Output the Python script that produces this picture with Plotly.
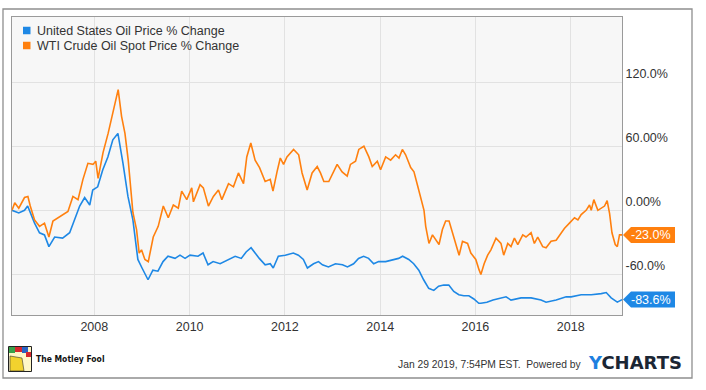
import plotly.graph_objects as go

# ---------------- data ----------------
wti_dates = [
    "2006-04-10", "2006-05-01", "2006-06-01", "2006-07-15", "2006-08-10", "2006-08-28",
    "2006-09-30", "2006-11-07", "2006-12-15", "2007-01-18", "2007-02-18", "2007-04-10",
    "2007-06-13", "2007-07-21", "2007-08-29", "2007-10-06", "2007-11-13", "2007-12-22",
    "2008-01-12", "2008-01-30", "2008-03-08", "2008-04-16", "2008-05-25", "2008-07-02",
    "2008-07-28", "2008-08-23", "2008-09-17", "2008-10-13", "2008-10-23", "2008-11-20",
    "2008-12-10", "2008-12-28", "2009-01-23", "2009-02-18", "2009-03-28", "2009-05-05",
    "2009-06-13", "2009-07-21", "2009-08-29", "2009-10-06", "2009-11-01", "2009-12-10",
    "2010-01-17", "2010-01-30", "2010-03-22", "2010-04-16", "2010-05-25", "2010-07-02",
    "2010-08-10", "2010-09-05", "2010-10-26", "2010-12-03", "2011-01-10", "2011-02-18",
    "2011-03-15", "2011-04-15", "2011-05-18", "2011-06-21", "2011-08-03", "2011-09-11",
    "2011-10-02", "2011-11-02", "2011-11-27", "2011-12-22", "2012-01-17", "2012-03-08",
    "2012-04-16", "2012-05-12", "2012-06-20", "2012-07-28", "2012-09-05", "2012-09-30",
    "2012-10-26", "2012-12-03", "2013-01-10", "2013-02-05", "2013-03-15", "2013-04-23",
    "2013-05-18", "2013-06-26", "2013-07-21", "2013-08-29", "2013-10-06", "2013-11-01",
    "2013-12-10", "2014-01-04", "2014-02-12", "2014-03-22", "2014-04-29", "2014-05-25",
    "2014-06-20", "2014-07-15", "2014-08-23", "2014-09-17", "2014-10-13", "2014-11-07",
    "2014-12-03", "2014-12-16", "2015-01-10", "2015-02-06", "2015-03-03", "2015-03-28",
    "2015-04-23", "2015-05-18", "2015-06-13", "2015-07-09", "2015-08-03", "2015-08-29",
    "2015-09-24", "2015-11-02", "2015-11-27", "2016-01-04", "2016-01-30", "2016-02-12",
    "2016-03-08", "2016-04-04", "2016-04-29", "2016-06-07", "2016-07-15", "2016-08-05",
    "2016-09-05", "2016-09-30", "2016-10-26", "2016-11-21", "2016-12-29", "2017-01-23",
    "2017-03-03", "2017-03-28", "2017-04-23", "2017-05-31", "2017-06-26", "2017-08-03",
    "2017-09-11", "2017-10-19", "2017-11-13", "2017-12-22", "2018-01-30", "2018-02-25",
    "2018-03-22", "2018-04-29", "2018-05-25", "2018-06-07", "2018-06-27", "2018-07-28",
    "2018-08-23", "2018-09-17", "2018-10-07", "2018-10-26", "2018-11-13", "2018-12-08",
    "2018-12-24", "2019-01-10", "2019-01-29",
]
wti_pct = [
    0, 7, 2, 12, 13, 4,
    -9, -15, -12, -25, -10, -6,
    -1, 13, 10, 29, 44, 43,
    46, 30, 54, 72, 94, 113,
    88, 72, 47, 12, -2, -18,
    -40, -37, -46, -48, -25, -15,
    4, -7, 5, 2, 18, 10,
    21, 8, 24, 21, 4, 13,
    19, 10, 25, 22, 35, 25,
    50, 63, 47, 40, 27, 29,
    18, 36, 49, 43, 50, 57,
    52, 35, 19, 35, 41, 35,
    27, 27, 36, 43, 36, 32,
    43, 46, 57, 60, 50, 41,
    46, 38, 50, 47, 52, 49,
    57, 52, 40, 36, 24, 13,
    0, -15, -31, -23, -28, -32,
    -18, -10, -10, -21, -31, -42,
    -29, -31, -40, -46, -56, -60,
    -50, -42, -37, -26, -31, -42,
    -31, -34, -26, -32, -23, -25,
    -21, -31, -25, -34, -35, -29,
    -28, -21, -17, -12, -7, -9,
    -4, 0, 5, 0, 10, 0,
    2, 4, 9, -3, -21, -32,
    -34, -23, -23.0,
]

uso_dates = [
    "2006-04-10", "2006-05-01", "2006-06-01", "2006-07-15", "2006-08-08", "2006-09-30",
    "2006-11-07", "2006-12-15", "2007-01-18", "2007-03-03", "2007-05-03", "2007-06-26",
    "2007-08-03", "2007-09-11", "2007-10-19", "2007-11-27", "2007-12-20", "2008-01-27",
    "2008-03-06", "2008-04-14", "2008-05-22", "2008-06-30", "2008-08-08", "2008-09-15",
    "2008-10-23", "2008-11-30", "2009-01-01", "2009-02-16", "2009-03-25", "2009-05-03",
    "2009-06-11", "2009-07-19", "2009-09-11", "2009-10-19", "2009-11-27", "2010-01-04",
    "2010-03-06", "2010-04-14", "2010-05-22", "2010-06-30", "2010-08-23", "2010-10-24",
    "2010-12-16", "2011-02-01", "2011-03-10", "2011-04-17", "2011-05-18", "2011-06-19",
    "2011-08-03", "2011-09-11", "2011-10-04", "2011-11-12", "2012-01-04", "2012-03-06",
    "2012-04-14", "2012-05-22", "2012-06-22", "2012-08-08", "2012-09-15", "2012-10-15",
    "2012-11-30", "2013-01-23", "2013-03-18", "2013-04-25", "2013-06-11", "2013-07-19",
    "2013-08-27", "2013-10-04", "2013-11-12", "2013-12-20", "2014-02-12", "2014-04-06",
    "2014-05-22", "2014-06-22", "2014-08-08", "2014-09-15", "2014-10-24", "2014-11-30",
    "2015-01-08", "2015-02-16", "2015-03-25", "2015-05-03", "2015-06-11", "2015-07-19",
    "2015-08-27", "2015-10-04", "2015-11-12", "2015-12-20", "2016-01-27", "2016-02-12",
    "2016-03-29", "2016-05-15", "2016-07-15", "2016-08-23", "2016-09-30", "2016-12-16",
    "2017-03-03", "2017-05-18", "2017-06-26", "2017-09-11", "2017-11-27", "2018-01-04",
    "2018-03-22", "2018-06-07", "2018-08-23", "2018-09-30", "2018-11-07", "2018-12-24",
    "2019-01-29",
]
uso_pct = [
    0, -1, -2.5, 0, 4, -12,
    -21, -23, -34, -25, -26, -21,
    -9, 4, 12, 5, 19, 22,
    38, 50, 66, 72, 44, 13,
    -9, -46, -54, -65, -56, -57,
    -48, -43, -45, -42, -45, -42,
    -43, -40, -51, -48, -50, -46,
    -43, -45, -39, -35, -40, -45,
    -51, -50, -54, -43, -42, -40,
    -42, -46, -54, -50, -48, -51,
    -53, -50, -51, -53, -50, -45,
    -43, -45, -50, -48, -48, -46,
    -45, -43, -46, -50, -56, -65,
    -73, -75, -71, -70, -70, -76,
    -79, -80, -80, -83, -87, -87,
    -86, -84, -82, -81, -84, -82,
    -82, -84, -86, -84, -81, -81,
    -79, -79, -78, -77, -82, -86,
    -83.6,
]

series_names = ["United States Oil Price % Change", "WTI Crude Oil Spot Price % Change"]
y_tickvals = [-60, 0, 60, 120]
y_ticktext = ["-60.0%", "0.00%", "60.00%", "120.0%"]
y_range = [-98, 181]
timestamp_text = "Jan 29 2019, 7:54PM EST.  Powered by"

# ---------------- style ----------------
BLUE = "#1E88E5"
ORANGE = "#FF800F"
FONT = "Liberation Sans, Arial, sans-serif"
W, H = 706, 390
PL, PR, PT, PB = 12, 622, 17, 315  # plot area in page pixels


def fx(xp):
    return (xp - PL) / (PR - PL)


def fy(yp):
    return (PB - yp) / (PB - PT)


fig = go.Figure()
fig.add_trace(go.Scatter(x=uso_dates, y=uso_pct, mode="lines", name=series_names[0],
                         line=dict(color=BLUE, width=1.6), showlegend=False))
fig.add_trace(go.Scatter(x=wti_dates, y=wti_pct, mode="lines", name=series_names[1],
                         line=dict(color=ORANGE, width=1.6), showlegend=False))

shapes = []
annotations = []

# outer frame
shapes.append(dict(type="rect", xref="paper", yref="paper",
                   x0=fx(3), x1=fx(692), y0=fy(378), y1=fy(9),
                   line=dict(color="#8f8f8f", width=1.3), fillcolor="rgba(0,0,0,0)", layer="below"))

# legend (square swatches + labels)
for i, (name, col) in enumerate(zip(series_names, [BLUE, ORANGE])):
    cy = 30.5 + 15 * i
    shapes.append(dict(type="rect", xref="paper", yref="paper",
                       x0=fx(23), x1=fx(30.5), y0=fy(cy + 3.75), y1=fy(cy - 3.75),
                       line=dict(width=0), fillcolor=col))
    annotations.append(dict(xref="paper", yref="paper", x=fx(35), y=fy(cy),
                            xanchor="left", yanchor="middle", showarrow=False,
                            text=name, font=dict(family=FONT, size=12.5, color="#333333")))

# end-value tags
for vals, col in [(wti_pct, ORANGE), (uso_pct, BLUE)]:
    last = vals[-1]
    shapes.append(dict(type="path", xref="paper", yref="y",
                       xsizemode="pixel", ysizemode="pixel", xanchor=1, yanchor=last,
                       path="M 1 0 L 9 8 L 53 8 L 53 -8 L 9 -8 Z",
                       fillcolor=col, line=dict(width=0)))
    annotations.append(dict(xref="paper", yref="y", x=1, y=last, xshift=29,
                            xanchor="center", yanchor="middle", showarrow=False,
                            text="%.1f%%" % last,
                            font=dict(family=FONT, size=12.5, color="white")))

# footer: Motley Fool mark
shapes.append(dict(type="rect", xref="paper", yref="paper", x0=fx(8.5), x1=fx(31.5),
                   y0=fy(371.5), y1=fy(346.5), line=dict(color="#222", width=1), fillcolor="#fff7c8"))
shapes.append(dict(type="path", xref="paper", yref="paper",
                   path="M %f %f L %f %f L %f %f L %f %f Z" % (fx(10), fy(371), fx(10), fy(356),
                                                              fx(22), fy(358), fx(24), fy(371)),
                   fillcolor="#f2d22e", line=dict(color="#333", width=0.6)))
for (x0, x1, y0, y1, c) in [(9, 15, 347, 353, "#3aa14a"), (15, 22, 347, 352, "#d7262e"),
                            (22, 28, 347, 353, "#2b64c4"), (26, 31, 352, 357, "#d7262e")]:
    shapes.append(dict(type="rect", xref="paper", yref="paper", x0=fx(x0), x1=fx(x1),
                       y0=fy(y1), y1=fy(y0), fillcolor=c, line=dict(width=0)))
annotations.append(dict(xref="paper", yref="paper", x=fx(34), y=fy(359), xanchor="left",
                        yanchor="middle", showarrow=False, text="<b>The Motley Fool</b>",
                        font=dict(family="Liberation Sans Narrow, DejaVu Sans Condensed, Arial Narrow, sans-serif",
                                  size=8.5, color="#111")))

# footer: timestamp + YCHARTS
annotations.append(dict(xref="paper", yref="paper", x=fx(583), y=fy(364), xanchor="right",
                        yanchor="middle", showarrow=False, text=timestamp_text,
                        font=dict(family=FONT, size=10.3, color="#333333")))
annotations.append(dict(xref="paper", yref="paper", x=fx(586), y=fy(362.5), xanchor="left",
                        yanchor="middle", showarrow=False,
                        text="<b><span style='color:#1E7FE0'>Y</span>CHARTS</b>",
                        font=dict(family="DejaVu Sans, sans-serif", size=18, color="#1b2634")))

fig.update_layout(
    width=W, height=H,
    margin=dict(l=PL, r=W - PR, t=PT, b=H - PB, pad=0),
    paper_bgcolor="white", plot_bgcolor="#f7f7f7",
    showlegend=False,
    shapes=shapes, annotations=annotations,
    font=dict(family=FONT, size=12.5, color="#333333"),
    xaxis=dict(type="date", range=[wti_dates[0], wti_dates[-1]],
               tick0="2008-01-01", dtick="M24", tickformat="%Y",
               showgrid=True, gridcolor="#e2e2e2", gridwidth=1,
               showline=True, linecolor="#9a9a9a", linewidth=1, mirror=True,
               ticks="", zeroline=False,
               tickfont=dict(family=FONT, size=12.5, color="#333333")),
    yaxis=dict(side="right", range=y_range, tickvals=y_tickvals, ticktext=y_ticktext,
               showgrid=True, gridcolor="#e2e2e2", gridwidth=1, zeroline=False,
               showline=True, linecolor="#9a9a9a", linewidth=1, mirror=True,
               ticks="", ticklabelshift=-9, ticklabelstandoff=0,
               tickfont=dict(family=FONT, size=12.5, color="#333333")),
)

fig.write_html("out.html", config={"displayModeBar": False},
               post_script="document.body.style.margin='0';")
